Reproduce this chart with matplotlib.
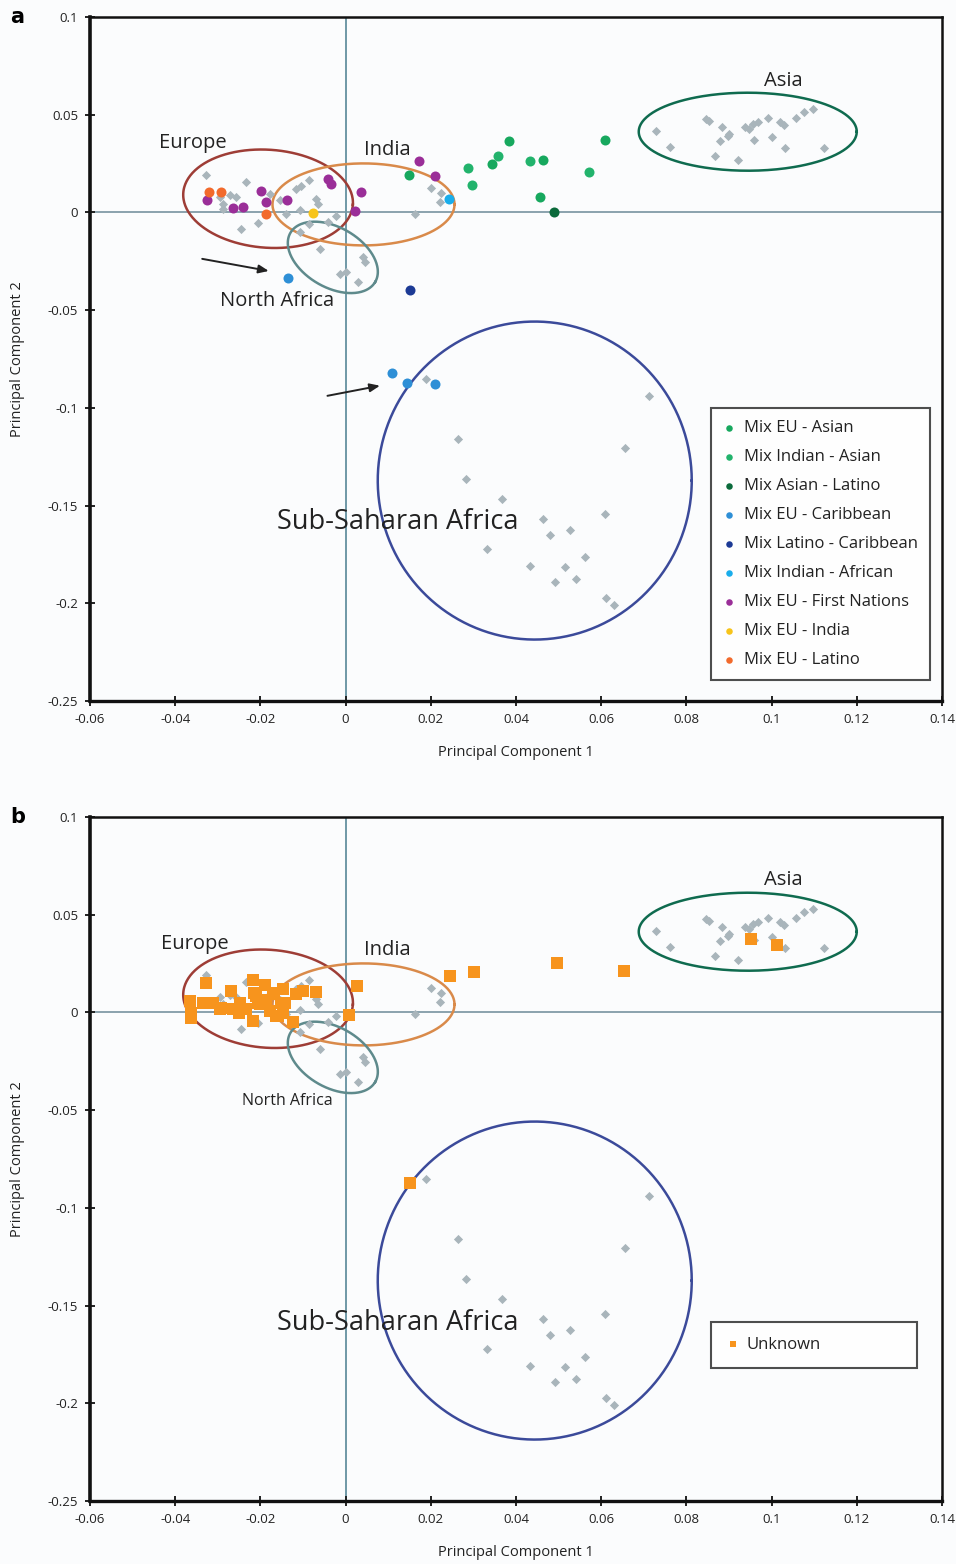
import numpy as np
import matplotlib
matplotlib.use("Agg")
import matplotlib.pyplot as plt

plt.rcParams['font.family'] = ['Open Sans', 'DejaVu Sans']

# reference populations (grey diamonds), same in both panels
ref_x = [-0.0327, -0.0233, -0.0296, -0.0272, -0.0257, -0.0288, -0.0288, -0.0178, -0.0155,
         -0.0116, -0.0104, -0.0085, -0.0069, -0.0065, -0.0139, -0.0108, -0.0042, -0.0022,
         -0.0085, -0.0108, -0.0206, -0.0245, -0.0061, 0.0041, 0.0045, -0.0014, 0.0002, 0.0029,
         0.0201, 0.0225, 0.0221, 0.0162,
         0.0728, 0.0762, 0.0847, 0.0854, 0.0884, 0.0901, 0.0898, 0.0880, 0.0866, 0.0921,
         0.0937, 0.0948, 0.0956, 0.0968, 0.0958, 0.0991, 0.1019, 0.1028, 0.1002, 0.1031,
         0.1058, 0.1075, 0.1097, 0.1122,
         0.0189, 0.0712, 0.0265, 0.0657, 0.0282, 0.0367, 0.0463, 0.0608, 0.0480, 0.0526,
         0.0333, 0.0563, 0.0434, 0.0516, 0.0492, 0.0542, 0.0612, 0.0629]
ref_y = [0.0194, 0.0155, 0.0078, 0.0087, 0.0078, 0.0044, 0.0019, 0.0095, 0.0066,
         0.0121, 0.0133, 0.0167, 0.0070, 0.0044, -0.0007, 0.0010, -0.0049, -0.0020,
         -0.0058, -0.0101, -0.0055, -0.0083, -0.0186, -0.0228, -0.0254, -0.0314, -0.0305, -0.0356,
         0.0124, 0.0099, 0.0053, -0.0007,
         0.0416, 0.0337, 0.0479, 0.0467, 0.0436, 0.0402, 0.0389, 0.0363, 0.0291, 0.0266,
         0.0436, 0.0428, 0.0453, 0.0465, 0.0372, 0.0482, 0.0462, 0.0448, 0.0385, 0.0331,
         0.0484, 0.0516, 0.0527, 0.0329,
         -0.0850, -0.0937, -0.1157, -0.1207, -0.1365, -0.1467, -0.1568, -0.1544, -0.1651, -0.1626,
         -0.1723, -0.1765, -0.1808, -0.1813, -0.1892, -0.1876, -0.1975, -0.2009]

# panel a: admixed individuals
mix_labels = ["Mix EU - Asian", "Mix Indian - Asian", "Mix Asian - Latino", "Mix EU - Caribbean",
              "Mix Latino - Caribbean", "Mix Indian - African", "Mix EU - First Nations",
              "Mix EU - India", "Mix EU - Latino"]
mix_colors = ["#17a85e", "#22b36c", "#0b6a3b", "#2e8fd6", "#1c3a95", "#19adeb", "#9a2e98",
              "#f7c41a", "#f26a2c"]
mix_x = [
    [0.0148, 0.0344, 0.0383, 0.0463, 0.0457, 0.0609],
    [0.0287, 0.0297, 0.0358, 0.0434, 0.0571],
    [0.0489],
    [-0.0135, 0.0110, 0.0144, 0.0209],
    [0.0150],
    [0.0243],
    [-0.0326, -0.0265, -0.0241, -0.0198, -0.0186, -0.0138, -0.0042, -0.0034, 0.0035, 0.0021,
     0.0172, 0.0211],
    [-0.0077],
    [-0.0321, -0.0292, -0.0188],
]
mix_y = [
    [0.0194, 0.0249, 0.0365, 0.0266, 0.0078, 0.0372],
    [0.0227, 0.0138, 0.0288, 0.0262, 0.0206],
    [0.0002],
    [-0.0336, -0.0821, -0.0873, -0.0879],
    [-0.0399],
    [0.0070],
    [0.0065, 0.0022, 0.0027, 0.0109, 0.0053, 0.0065, 0.0169, 0.0147, 0.0104, 0.0007,
     0.0261, 0.0186],
    [-0.0002],
    [0.0107, 0.0107, -0.0007],
]

# panel b: unknown samples
unk_x = [-0.0327, -0.0365, -0.0362, -0.0364, -0.0335, -0.0311, -0.0296, -0.0292, -0.0268,
         -0.0265, -0.0251, -0.0249, -0.0233, -0.0218, -0.0214, -0.0206, -0.0218, -0.0210,
         -0.0202, -0.0190, -0.0186, -0.0178, -0.0171, -0.0167, -0.0163, -0.0159, -0.0151,
         -0.0147, -0.0143, -0.0147, -0.0124, -0.0116, -0.0099, -0.0070, 0.0008, 0.0027,
         0.0246, 0.0301, 0.0496, 0.0654, 0.0952, 0.1013, 0.0150]
unk_y = [0.0150, 0.0058, -0.0002, -0.0027, 0.0050, 0.0050, 0.0015, 0.0024, 0.0111,
         0.0015, -0.0002, 0.0050, 0.0020, 0.0165, 0.0101, 0.0050, -0.0044, 0.0083,
         0.0041, 0.0138, 0.0066, 0.0007, 0.0101, 0.0092, -0.0019, -0.0019, 0.0050,
         0.0122, 0.0050, -0.0002, -0.0048, 0.0092, 0.0111, 0.0106, -0.0015, 0.0136,
         0.0186, 0.0208, 0.0252, 0.0213, 0.0377, 0.0343, -0.0874]

x_ticks = [-0.06, -0.04, -0.02, 0, 0.02, 0.04, 0.06, 0.08, 0.1, 0.12, 0.14]
y_ticks = [0.1, 0.05, 0, -0.05, -0.1, -0.15, -0.2, -0.25]

# region outlines: centre (data), semi-axes (px), angle (deg), colour
regions = [
    ("Europe", -0.0182, 0.0070, 85, 49, -4, "#9e3d36"),
    ("India", 0.0042, 0.0041, 91, 41, 0, "#d98a4a"),
    ("North Africa", -0.0030, -0.0230, 49, 30, -30, "#5e8a8c"),
    ("Asia", 0.0944, 0.0413, 109, 39, 0, "#0f6b4f"),
    ("Sub-Saharan Africa", 0.0444, -0.1372, 157, 159, 0, "#3b4a9a"),
]

W, H = 956, 1564
fig = plt.figure(figsize=(W / 100, H / 100), dpi=100)
fig.patch.set_facecolor("#fbfcfd")

ax_l, ax_w = 90 / W, 852 / W
ax_a = fig.add_axes([ax_l, 1 - 701 / H, ax_w, 684 / H])
ax_b = fig.add_axes([ax_l, 1 - 1501 / H, ax_w, 684 / H])
sx = 852 / 0.2    # px per unit x
sy = 684 / 0.35   # px per unit y


def setup(ax, letter):
    ax.set_facecolor("#fbfcfd")
    ax.set_xlim(-0.06, 0.14)
    ax.set_ylim(-0.25, 0.1)
    ax.set_xticks(x_ticks)
    ax.set_yticks(y_ticks)
    ax.set_xticklabels(["%g" % v for v in x_ticks])
    ax.set_yticklabels(["%g" % v for v in y_ticks])
    ax.tick_params(direction="inout", length=7, width=1.4, labelsize=9.5,
                   colors="#222222", pad=5)
    for s in ax.spines.values():
        s.set_color("#111111")
        s.set_linewidth(1.8)
    ax.spines["left"].set_linewidth(2.6)
    ax.spines["bottom"].set_linewidth(2.4)
    ax.axhline(0, color="#8aa2ad", lw=1.4, zorder=1)
    ax.axvline(0, color="#6f98a6", lw=1.4, zorder=1)
    ax.set_xlabel("Principal Component 1", fontsize=10.5, color="#222222", labelpad=14)
    ax.set_ylabel("Principal Component 2", fontsize=10.5, color="#222222", labelpad=16)
    ax.text(-0.085, 1.0, letter, transform=ax.transAxes, fontsize=15, fontweight="bold",
            ha="center", va="center", family="DejaVu Sans")
    t = np.linspace(0, 2 * np.pi, 300)
    for name, cx, cy, a, b, ang, col in regions:
        th = np.deg2rad(ang)
        dx = a * np.cos(t) * np.cos(th) - b * np.sin(t) * np.sin(th)
        dy = a * np.cos(t) * np.sin(th) + b * np.sin(t) * np.cos(th)
        ax.plot(cx + dx / sx, cy + dy / sy, color=col, lw=1.8, zorder=2)
    ax.scatter(ref_x, ref_y, marker="D", s=22, color="#a9b5bb", zorder=3, linewidths=0)


def style_legend(leg):
    fr = leg.get_frame()
    fr.set_edgecolor("#222222")
    fr.set_linewidth(1.5)
    fr.set_facecolor("white")
    for txt in leg.get_texts():
        txt.set_color("#222222")


setup(ax_a, "a")
setup(ax_b, "b")

# panel a
for lab, col, xs, ys in zip(mix_labels, mix_colors, mix_x, mix_y):
    ax_a.scatter(xs, ys, s=52, color=col, zorder=4, linewidths=0, label=lab)

lab_kw = dict(ha="center", va="center", color="#222222", zorder=5)
ax_a.text(-0.0359, 0.0353, "Europe", fontsize=14.5, **lab_kw)
ax_a.text(0.0099, 0.0317, "India", fontsize=14.5, **lab_kw)
ax_a.text(0.1028, 0.0675, "Asia", fontsize=14.5, **lab_kw)
ax_a.text(-0.0160, -0.0455, "North Africa", fontsize=14.5, **lab_kw)
ax_a.text(0.0122, -0.1585, "Sub-Saharan Africa", fontsize=19.5, **lab_kw)

arrow_kw = dict(arrowstyle="-|>,head_length=0.6,head_width=0.25", color="#222222", lw=1.4)
ax_a.annotate("", xy=(-0.0174, -0.0302), xytext=(-0.0343, -0.0235), arrowprops=arrow_kw)
ax_a.annotate("", xy=(0.0087, -0.0884), xytext=(-0.0049, -0.0941), arrowprops=arrow_kw)

leg = ax_a.legend(loc="upper left", bbox_to_anchor=(0.729, 0.025, 0.257, 0.403),
                  mode="expand", fontsize=12, frameon=True, fancybox=False,
                  handlelength=0.8, handletextpad=0.45, labelspacing=0.78,
                  borderpad=0.7, markerscale=0.65, borderaxespad=0)
style_legend(leg)

# panel b
ax_b.scatter(unk_x, unk_y, marker="s", s=64, color="#f7941d", zorder=4, linewidths=0,
             label="Unknown")
ax_b.text(-0.0354, 0.0348, "Europe", fontsize=14.5, **lab_kw)
ax_b.text(0.0099, 0.0322, "India", fontsize=14.5, **lab_kw)
ax_b.text(0.1028, 0.0680, "Asia", fontsize=14.5, **lab_kw)
ax_b.text(-0.0136, -0.0455, "North Africa", fontsize=11.5, **lab_kw)
ax_b.text(0.0122, -0.1590, "Sub-Saharan Africa", fontsize=19.5, **lab_kw)

leg_b = ax_b.legend(loc="upper left", bbox_to_anchor=(0.729, 0.194, 0.242, 0.068),
                    mode="expand", fontsize=12, frameon=True, fancybox=False,
                    handlelength=0.8, handletextpad=0.45, borderpad=0.9,
                    markerscale=0.6, borderaxespad=0)
style_legend(leg_b)

fig.savefig("out.png", dpi=100, facecolor=fig.get_facecolor())
